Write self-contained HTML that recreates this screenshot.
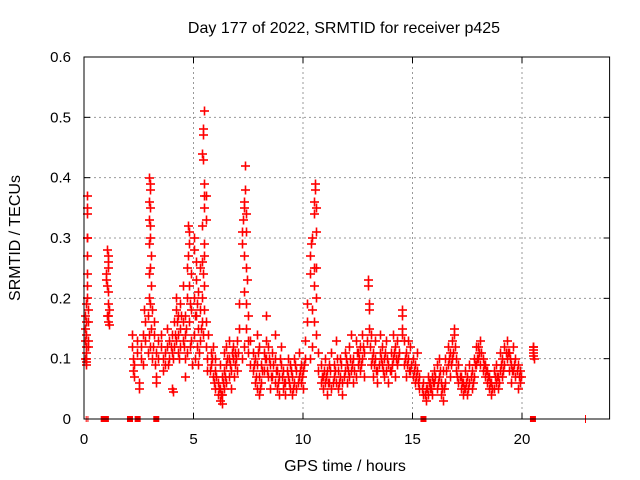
<!DOCTYPE html>
<html><head><meta charset="utf-8"><style>
html,body{margin:0;padding:0;background:#fff;}
svg{display:block;font-family:"Liberation Sans",sans-serif;}
</style></head><body>
<svg id="chart" width="640" height="480">
<text x="344" y="33" font-size="16" text-anchor="middle">Day 177 of 2022, SRMTID for receiver p425</text>
<text x="345" y="471" font-size="16" text-anchor="middle">GPS time / hours</text>
<text transform="translate(20,238) rotate(-90)" font-size="16" text-anchor="middle">SRMTID / TECUs</text>
<g id="grid"></g>
<g id="ticks"></g>
<g id="marks"></g>
<rect x="84" y="57" width="525.6" height="362" fill="none" stroke="#000" stroke-width="1"/>
</svg>
<script>
const xTicks=[0,5,10,15,20];
const yTicks=[0,0.1,0.2,0.3,0.4,0.5,0.6];
const yTickLabels=["0","0.1","0.2","0.3","0.4","0.5","0.6"];
const gapMarks=[0.9,1.0,2.1,2.45,3.3,15.5,20.5];
const points=[
[0.05,0.13],[0.05,0.17],[0.05,0.15],[0.08,0.10],[0.08,0.12],[0.1,0.19],[0.1,0.16],[0.12,0.37],[0.12,0.35],[0.12,0.34],[0.13,0.30],[0.15,0.27],[0.15,0.24],[0.15,0.22],[0.14,0.30],[0.1,0.14],[0.1,0.11],[0.07,0.09],[0.2,0.18],[0.2,0.16],[0.2,0.13],[0.2,0.12],[0.05,0.10],[0.1,0.095],[0.15,0.20],
[1.05,0.28],[1.1,0.26],[1.1,0.25],[1.0,0.24],[1.0,0.23],[1.05,0.22],[1.1,0.21],[1.1,0.27],[1.15,0.18],[1.1,0.17],[1.1,0.16],[1.15,0.155],[1.05,0.17],[1.1,0.19],
[2.2,0.14],[2.2,0.12],[2.25,0.10],[2.3,0.09],[2.25,0.08],[2.3,0.07],[2.4,0.13],[2.4,0.11],[2.5,0.06],[2.5,0.05],[2.6,0.12],[2.6,0.10],[2.7,0.14],[2.7,0.09],[2.8,0.16],[2.75,0.18],[2.8,0.13],
[2.95,0.40],[3.0,0.39],[3.0,0.38],[2.95,0.36],[3.0,0.35],[2.95,0.33],[3.0,0.32],[3.0,0.30],[2.95,0.29],[3.05,0.27],[3.0,0.25],[2.95,0.24],[3.05,0.22],[2.95,0.20],[3.0,0.19],[2.9,0.17],[3.05,0.15],[2.95,0.14],[3.0,0.12],[3.1,0.18],[3.1,0.10],[2.9,0.11],
[3.15,0.12],[3.2,0.14],[3.25,0.09],[3.3,0.06],[3.3,0.07],[3.4,0.10],[3.4,0.13],[3.5,0.12],[3.5,0.14],[3.6,0.08],[3.6,0.10],[3.7,0.09],[3.7,0.11],[3.2,0.16],[3.3,0.11],
[3.8,0.12],[3.8,0.15],[3.9,0.10],[3.9,0.13],[4.0,0.11],[4.0,0.14],[4.0,0.05],[4.05,0.045],[4.1,0.12],[4.1,0.16],[4.2,0.13],[4.2,0.18],[4.2,0.20],[4.3,0.14],[4.3,0.17],[4.3,0.11],[4.4,0.15],[4.4,0.19],[4.4,0.12],[4.5,0.16],[4.5,0.13],[4.5,0.22],[4.6,0.17],[4.6,0.14],[4.6,0.10],[4.6,0.07],
[4.7,0.20],[4.7,0.25],[4.75,0.27],[4.8,0.29],[4.8,0.31],[4.75,0.32],[4.8,0.22],[4.8,0.16],[4.85,0.12],[4.9,0.18],[4.9,0.24],[5.0,0.28],[5.0,0.30],[5.0,0.20],[5.0,0.14],[5.05,0.10],[5.1,0.26],[5.1,0.23],[5.1,0.17],[5.15,0.12],[5.2,0.21],[5.2,0.15],[5.2,0.09],[5.3,0.25],[5.3,0.18],[5.3,0.13],[4.9,0.13],[4.95,0.09],
[5.5,0.51],[5.45,0.48],[5.45,0.47],[5.4,0.44],[5.45,0.43],[5.5,0.39],[5.5,0.37],[5.55,0.37],[5.5,0.35],[5.55,0.33],[5.4,0.32],[5.5,0.29],[5.5,0.27],[5.4,0.26],[5.45,0.24],[5.5,0.22],[5.4,0.20],[5.5,0.18],[5.55,0.16],[5.45,0.14],[5.55,0.12],[5.6,0.10],[5.6,0.08],[5.4,0.16],[5.65,0.14],
[5.8,0.11],[5.8,0.09],[5.9,0.07],[5.9,0.12],[6.0,0.05],[6.0,0.08],[6.0,0.10],[6.1,0.04],[6.1,0.06],[6.2,0.03],[6.2,0.05],[6.2,0.09],[6.3,0.025],[6.3,0.04],[6.3,0.07],[6.4,0.05],[6.4,0.08],[6.4,0.11],[6.5,0.06],[6.5,0.09],[6.5,0.12],[6.6,0.07],[6.6,0.10],[6.6,0.13],[6.7,0.05],[6.7,0.08],[6.8,0.10],[6.8,0.12],[6.9,0.09],[6.9,0.11],[7.0,0.13],[7.0,0.08],
[7.1,0.15],[7.1,0.19],[7.2,0.29],[7.2,0.31],[7.25,0.33],[7.3,0.35],[7.3,0.36],[7.35,0.42],[7.35,0.38],[7.4,0.34],[7.4,0.31],[7.3,0.27],[7.4,0.25],[7.45,0.23],[7.3,0.21],[7.4,0.19],[7.5,0.17],[7.4,0.15],[7.5,0.13],[7.5,0.11],[7.3,0.12],[7.6,0.09],[7.2,0.10],[7.6,0.13],
[7.7,0.08],[7.7,0.11],[7.8,0.06],[7.8,0.10],[7.9,0.05],[7.9,0.09],[7.9,0.14],[8.0,0.04],[8.0,0.07],[8.0,0.12],[8.1,0.06],[8.1,0.09],[8.2,0.08],[8.2,0.11],[8.3,0.10],[8.3,0.13],[8.3,0.17],[8.4,0.07],[8.4,0.12],[8.5,0.05],[8.5,0.09],[8.6,0.07],[8.6,0.11],[8.7,0.06],[8.7,0.10],[8.7,0.14],[8.8,0.05],[8.8,0.08],[8.9,0.04],[8.9,0.07],[9.0,0.09],[9.0,0.12],[9.1,0.05],[9.1,0.08],[9.2,0.04],[9.2,0.06],[9.3,0.07],[9.3,0.10],[9.4,0.05],[9.4,0.09],[9.5,0.04],[9.5,0.07],[9.6,0.06],[9.6,0.10],[9.7,0.05],[9.7,0.08],[9.8,0.07],[9.8,0.11],[9.9,0.06],[9.9,0.09],[10.0,0.05],[10.0,0.08],[10.1,0.10],[10.1,0.13],
[10.2,0.16],[10.2,0.19],[10.3,0.24],[10.3,0.27],[10.35,0.29],[10.4,0.30],[10.5,0.36],[10.5,0.34],[10.55,0.38],[10.55,0.39],[10.6,0.35],[10.6,0.31],[10.5,0.25],[10.6,0.25],[10.5,0.22],[10.6,0.20],[10.4,0.18],[10.5,0.16],[10.6,0.14],[10.4,0.12],[10.7,0.11],[10.3,0.10],[10.7,0.08],
[10.8,0.06],[10.8,0.09],[10.9,0.05],[10.9,0.07],[11.0,0.06],[11.0,0.10],[11.1,0.04],[11.1,0.08],[11.2,0.06],[11.2,0.09],[11.3,0.05],[11.3,0.11],[11.4,0.07],[11.4,0.09],[11.5,0.06],[11.5,0.13],[11.6,0.05],[11.6,0.08],[11.7,0.07],[11.7,0.10],[11.8,0.04],[11.8,0.06],[11.9,0.08],[11.9,0.11],[12.0,0.06],[12.0,0.09],[12.1,0.07],[12.1,0.12],[12.2,0.08],[12.2,0.14],[12.3,0.06],[12.3,0.10],[12.4,0.07],[12.4,0.13],[12.5,0.09],[12.5,0.11],[12.6,0.08],[12.6,0.12],[12.7,0.10],[12.7,0.14],[12.8,0.07],[12.8,0.11],
[12.95,0.23],[12.95,0.22],[13.0,0.19],[13.0,0.18],[13.0,0.15],[12.9,0.13],[13.05,0.12],[13.1,0.09],[13.1,0.14],[13.2,0.07],[13.2,0.11],[13.3,0.10],[13.3,0.13],[13.4,0.06],[13.4,0.08],[13.5,0.11],[13.5,0.14],[13.6,0.09],[13.6,0.12],[13.7,0.07],[13.7,0.10],[13.8,0.08],[13.8,0.13],[13.9,0.06],[13.9,0.09],[14.0,0.11],[14.0,0.08],[14.1,0.10],[14.1,0.14],[14.2,0.07],[14.2,0.12],[14.3,0.09],[14.3,0.13],
[14.5,0.18],[14.5,0.17],[14.5,0.15],[14.5,0.14],[14.6,0.13],[14.4,0.11],[14.6,0.09],[14.7,0.07],[14.7,0.11],[14.8,0.10],[14.8,0.13],[14.9,0.08],[14.9,0.12],[15.0,0.07],[15.0,0.10],[15.1,0.06],[15.1,0.09],[15.2,0.08],[15.2,0.11],[15.3,0.05],[15.3,0.07],
[15.5,0.04],[15.5,0.06],[15.6,0.03],[15.6,0.05],[15.7,0.04],[15.7,0.07],[15.8,0.05],[15.8,0.06],[15.9,0.04],[15.9,0.07],[16.0,0.06],[16.0,0.08],[16.1,0.05],[16.1,0.09],[16.2,0.07],[16.2,0.10],[16.3,0.04],[16.3,0.06],[16.4,0.03],[16.4,0.08],[16.5,0.06],[16.5,0.10],[16.6,0.09],[16.6,0.12],[16.7,0.07],[16.7,0.11],[16.8,0.13],[16.8,0.10],[16.9,0.15],[16.9,0.14],[16.95,0.12],[17.0,0.08],[17.0,0.10],[17.1,0.06],[17.1,0.09],
[17.2,0.05],[17.2,0.07],[17.3,0.04],[17.3,0.06],[17.4,0.05],[17.4,0.08],[17.5,0.04],[17.5,0.07],[17.6,0.06],[17.6,0.09],[17.7,0.05],[17.7,0.08],[17.8,0.07],[17.8,0.10],[17.9,0.09],[17.9,0.12],[18.0,0.10],[18.0,0.12],[18.05,0.11],[18.1,0.09],[18.1,0.13],[18.15,0.11],[18.2,0.08],[18.2,0.10],[18.3,0.07],[18.3,0.09],[18.4,0.06],[18.4,0.08],[18.5,0.05],[18.5,0.07],[18.6,0.06],[18.6,0.04],[18.7,0.05],[18.7,0.08],[18.8,0.06],[18.8,0.09],[18.9,0.07],[18.9,0.05],
[19.0,0.08],[19.0,0.11],[19.1,0.07],[19.1,0.10],[19.2,0.09],[19.2,0.12],[19.3,0.10],[19.3,0.13],[19.4,0.08],[19.4,0.11],[19.5,0.06],[19.5,0.09],[19.6,0.08],[19.6,0.12],[19.7,0.07],[19.7,0.10],[19.8,0.09],[19.8,0.05],[19.9,0.08],[19.9,0.06],
[20.5,0.12],[20.5,0.115],[20.5,0.11],[20.5,0.105],[20.55,0.10],[20.5,0.12]
];
const extraPoints=[
[3.85,0.09],[3.95,0.12],[4.05,0.10],[4.15,0.14],[4.25,0.16],[4.35,0.10],[4.45,0.17],[4.55,0.12],[4.65,0.15],[4.7,0.11],[4.85,0.19],[5.05,0.17],[5.15,0.19],[5.25,0.11],[5.35,0.15],
[5.75,0.08],[5.85,0.10],[5.95,0.06],[6.05,0.07],[6.15,0.05],[6.25,0.04],[6.35,0.06],[6.45,0.07],[6.55,0.10],[6.65,0.09],[6.75,0.11],[6.85,0.07],[6.95,0.10],[7.05,0.11],
[7.75,0.09],[7.85,0.07],[7.95,0.11],[8.05,0.05],[8.15,0.08],[8.25,0.10],[8.35,0.08],[8.45,0.10],[8.55,0.07],[8.65,0.09],[8.75,0.08],[8.85,0.06],[8.95,0.10],[9.05,0.07],[9.15,0.06],[9.25,0.08],[9.35,0.06],[9.45,0.08],[9.55,0.05],[9.65,0.09],[9.75,0.06],[9.85,0.08],[9.95,0.07],[10.05,0.09],
[10.85,0.07],[10.95,0.08],[11.05,0.07],[11.15,0.06],[11.25,0.08],[11.35,0.06],[11.45,0.08],[11.55,0.10],[11.65,0.06],[11.75,0.09],[11.85,0.07],[11.95,0.10],[12.05,0.08],[12.15,0.10],[12.25,0.09],[12.35,0.08],[12.45,0.11],[12.55,0.10],[12.65,0.09],[12.75,0.12],
[13.15,0.10],[13.25,0.09],[13.35,0.08],[13.45,0.09],[13.55,0.10],[13.65,0.08],[13.75,0.11],[13.85,0.10],[13.95,0.08],[14.05,0.09],[14.15,0.11],[14.25,0.10],[14.35,0.10],[14.65,0.10],[14.75,0.09],[14.85,0.08],[14.95,0.09],[15.05,0.08],[15.15,0.07],[15.25,0.06],
[15.45,0.05],[15.55,0.04],[15.65,0.05],[15.75,0.06],[15.85,0.05],[15.95,0.06],[16.05,0.07],[16.15,0.06],[16.25,0.08],[16.35,0.05],[16.45,0.05],[16.55,0.08],[16.65,0.10],[16.75,0.09],[16.85,0.11],[17.05,0.07],[17.15,0.07],
[17.25,0.06],[17.35,0.05],[17.45,0.06],[17.55,0.05],[17.65,0.07],[17.75,0.06],[17.85,0.09],[17.95,0.10],[18.25,0.09],[18.35,0.08],[18.45,0.07],[18.55,0.06],[18.65,0.05],[18.75,0.07],[18.85,0.07],[18.95,0.06],
[19.05,0.09],[19.15,0.08],[19.25,0.11],[19.35,0.11],[19.45,0.10],[19.55,0.08],[19.65,0.09],[19.75,0.08],[19.85,0.07],[19.95,0.07]
];
const X0=84,X1=609.6,Y0=419,Y1=57,XMAX=24,YMAX=0.6;
function xs(t){return X0+(X1-X0)*t/XMAX;}
function ys(v){return Y0-(Y0-Y1)*v/YMAX;}
const NS="http://www.w3.org/2000/svg";
const grid=document.getElementById('grid'),ticks=document.getElementById('ticks'),marks=document.getElementById('marks');
function mk(tag,attrs,parent){const e=document.createElementNS(NS,tag);for(const k in attrs)e.setAttribute(k,attrs[k]);parent.appendChild(e);return e;}
xTicks.forEach(t=>{
  const x=xs(t);
  if(t>0){const g=mk('line',{x1:x,y1:Y0,x2:x,y2:Y1,stroke:'#999','stroke-dasharray':'2,3'},grid);
  
  }
  mk('line',{x1:x,y1:Y0,x2:x,y2:Y0-6,stroke:'#000'},ticks);
  mk('line',{x1:x,y1:Y1,x2:x,y2:Y1+6,stroke:'#000'},ticks);
  const l=mk('text',{x:x,y:Y0+25,'font-size':15,'text-anchor':'middle'},ticks);
  l.textContent=String(t);
  
  
});
yTicks.forEach((v,i)=>{
  const y=ys(v);
  if(v>0&&v<YMAX){const g=mk('line',{x1:X0,y1:y,x2:X1,y2:y,stroke:'#999','stroke-dasharray':'2,3'},grid);
  
  }
  mk('line',{x1:X0,y1:y,x2:X0+6,y2:y,stroke:'#000'},ticks);
  mk('line',{x1:X1,y1:y,x2:X1-6,y2:y,stroke:'#000'},ticks);
  const l=mk('text',{x:X0-13,y:y+5,'font-size':15,'text-anchor':'end'},ticks);
  l.textContent=yTickLabels[i];
  
  
});
points.concat(extraPoints).forEach(p=>{
  const x=Math.round(xs(p[0])),y=Math.round(ys(p[1]));
  const h=mk('rect',{x:x-4,y:y-0.8,width:9,height:1.6,fill:'#ff0000'},marks);
  
  
  const v=mk('rect',{x:x-0.3,y:y-4.5,width:1.6,height:9,fill:'#ff0000'},marks);
  
  
});
gapMarks.forEach(t=>{
  const r=mk('rect',{x:xs(t)-3,y:Y0-3,width:6,height:6,fill:'#f00'},marks);
  
  
});
[0.1,0.18].forEach(t=>{mk('line',{x1:xs(t),y1:Y0-3,x2:xs(t),y2:Y0+3,stroke:'#f00'},marks);});
mk('line',{x1:xs(22.9),y1:Y0-4,x2:xs(22.9),y2:Y0+4,stroke:'#f00'},marks);
</script>
</body></html>
